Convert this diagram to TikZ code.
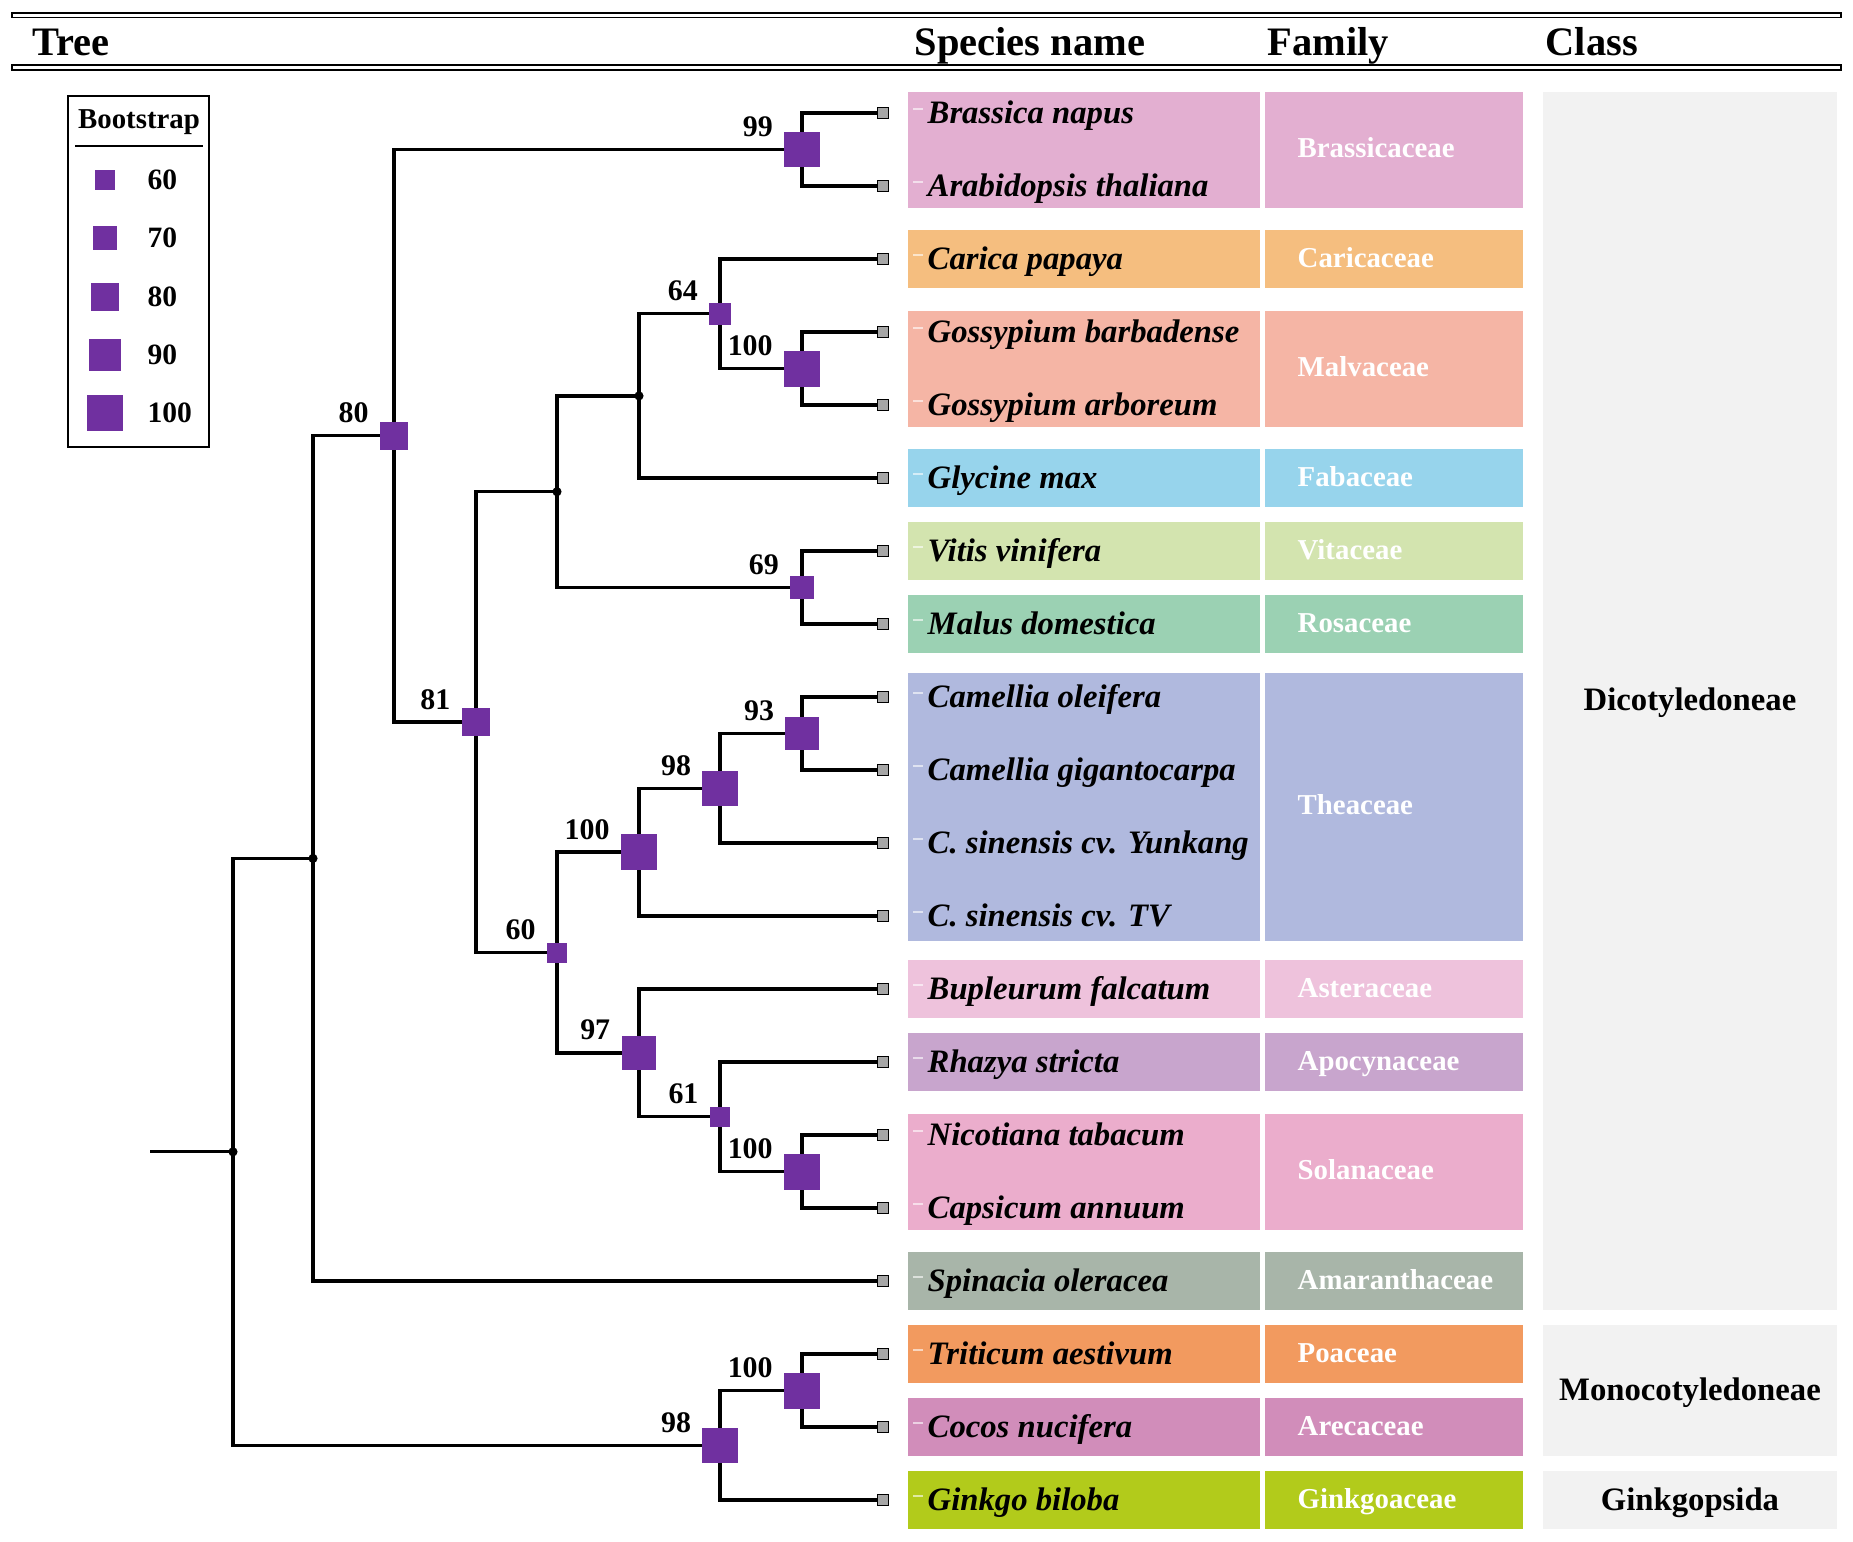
\documentclass[tikz,border=0pt]{standalone}
\usepackage{fontspec}
\setmainfont{Liberation Serif}
\usetikzlibrary{positioning,calc}
\definecolor{bootc}{HTML}{7030A0}
\definecolor{cBras}{HTML}{E3AFD1}
\definecolor{cCari}{HTML}{F5BE7F}
\definecolor{cMalv}{HTML}{F5B5A5}
\definecolor{cFab}{HTML}{97D4EC}
\definecolor{cVit}{HTML}{D3E4AF}
\definecolor{cRos}{HTML}{9BD1B3}
\definecolor{cThea}{HTML}{B0B9DE}
\definecolor{cAst}{HTML}{EEC2DC}
\definecolor{cApo}{HTML}{C8A5CD}
\definecolor{cSol}{HTML}{EBADCC}
\definecolor{cAma}{HTML}{A8B5A9}
\definecolor{cPoa}{HTML}{F29A5F}
\definecolor{cAre}{HTML}{D18DBA}
\definecolor{cGin}{HTML}{B2CB1B}
\definecolor{cClass}{HTML}{F2F2F2}
\tikzset{branch/.style={line width=0.95pt,draw}}
\tikzset{boot sq/.style={rectangle,fill=bootc,inner sep=0pt,
    minimum size={(20+0.4*(#1-60))*0.2845pt}}, }
\tikzset{boot num/.style={inner sep=0pt,anchor=south east,
    font=\fontsize{8.5}{10}\selectfont\bfseries}, }
\tikzset{tip/.style={rectangle,draw,line width=0.35pt,fill=black!35,inner sep=0pt,minimum size=3pt}, }
\tikzset{knot/.style={circle,fill=black,inner sep=0pt,minimum size=2.6pt}, }
\tikzset{spec box/.style={rectangle,inner sep=0pt,minimum width=3.52cm,minimum height={#1*0.01cm}}, }
\tikzset{fam box/.style={rectangle,inner sep=0pt,minimum width=2.58cm,minimum height={#1*0.01cm}}, }
\tikzset{class box/.style={rectangle,fill=cClass,inner sep=0pt,minimum width=2.94cm,minimum height={#1*0.01cm}}, }
\tikzset{spec text/.style={inner sep=0pt,anchor=base west,font=\fontsize{9.3}{11}\selectfont\bfseries\itshape}, }
\tikzset{fam text/.style={inner sep=0pt,anchor=base west,text=white,font=\fontsize{8.2}{10}\selectfont\bfseries}, }
\tikzset{class text/.style={inner sep=0pt,anchor=base,font=\fontsize{9.3}{11}\selectfont\bfseries}, }
\tikzset{head/.style={inner sep=0pt,anchor=base west,font=\fontsize{11.5}{13}\selectfont\bfseries}, }
\tikzset{leg num/.style={inner sep=0pt,anchor=west,font=\fontsize{8.4}{10}\selectfont\bfseries}, }
\tikzset{rule/.style={draw,line width=0.45pt,fill=white}}
\begin{document}
\begin{tikzpicture}[x=0.01cm,y=-0.01cm]
  \useasboundingbox (0,0) rectangle (1853,1541);
  % header
  \draw[rule] (12,13) rectangle (1841,17.5);
  \draw[line width=0.75pt] (12,13) -- (1841,13);
  \draw[rule] (12,65) rectangle (1841,70);
  \draw[line width=0.75pt] (12,70) -- (1841,70);
  \node[head] (htree) at (32,55) {Tree};
  \node[head] (hspec) at (914,55) {Species name};
  \node[head] (hfam) at (1267,55) {Family};
  \node[head] (hclass) at (1545,55) {Class};
  %
  % legend
  \node[draw,line width=0.6pt,inner sep=0pt,minimum width=1.41cm,minimum height=3.51cm] (legend) at (138.5,271.5) {};
  \node[inner sep=0pt,font=\fontsize{8.2}{10}\selectfont\bfseries] (legtitle) at (139,122) {Bootstrap};
  \coordinate (ula) at (75,146);
  \coordinate (ulb) at (203,146);
  \draw[line width=0.4pt] (ula) -- (ulb);
  \foreach \v [count=\k from 0] in {60,70,80,90,100}{
    \node[boot sq=\v] (leg\v) at (105,{180+58.3*\k}) {};
    \node[leg num] (legn\v) at (147,{180+58.3*\k}) {\v};
  }
  %
  % class column
  \node[class box=1218.5] (cdico) at (1690,700.75) {};
  \node[class text] (tdico) at (1690,710) {Dicotyledoneae};
  \node[class box=131] (cmono) at (1690,1390.5) {};
  \node[class text] (tmono) at (1690,1400) {Monocotyledoneae};
  \node[class box=58] (cgink) at (1690,1500) {};
  \node[class text] (tgink) at (1690,1510) {Ginkgopsida};
  %
  % species and family boxes
  \foreach \nm/\cy/\h/\col/\fam in {bras/149.5/116/cBras/Brassicaceae,
      cari/259/58/cCari/Caricaceae, malv/368.5/116/cMalv/Malvaceae,
      fab/478/58/cFab/Fabaceae, vit/551/58/cVit/Vitaceae,
      ros/624/58/cRos/Rosaceae, thea/806.5/268/cThea/Theaceae,
      ast/989/58/cAst/Asteraceae, apo/1062/58/cApo/Apocynaceae,
      sol/1171.5/116/cSol/Solanaceae, ama/1281/58/cAma/Amaranthaceae,
      poa/1354/58/cPoa/Poaceae, are/1427/58/cAre/Arecaceae,
      gin/1500/58/cGin/Ginkgoaceae}{
    \node[spec box=\h,fill=\col] (sb\nm) at (1084,\cy) {};
    \node[fam box=\h,fill=\col] (fb\nm) at (1394,\cy) {};
    \node[fam text] (ft\nm) at (1297,\cy+8) {\fam};
  }
  %
  % leaves
  \foreach \i/\sp in {1/Brassica napus, 2/Arabidopsis thaliana, 3/Carica papaya,
      4/Gossypium barbadense, 5/Gossypium arboreum, 6/Glycine max,
      7/Vitis vinifera, 8/Malus domestica, 9/Camellia oleifera,
      10/Camellia gigantocarpa, 11/C. sinensis cv. Yunkang, 12/C. sinensis cv. TV,
      13/Bupleurum falcatum, 14/Rhazya stricta, 15/Nicotiana tabacum,
      16/Capsicum annuum, 17/Spinacia oleracea, 18/Triticum aestivum,
      19/Cocos nucifera, 20/Ginkgo biloba}{
    \coordinate (l\i) at (883,{113+73*(\i-1)});
    \draw[white,opacity=0.6,line width=0.5pt] ([shift={(30,-4)}]l\i) -- ([shift={(40,-4)}]l\i);
    \node[spec text] (sp\i) at ([shift={(44,10)}]l\i) {\sp};
  }
  %
  % tree
  \coordinate (stem) at (150,1151.8);
  \coordinate (root) at (233,1151.8);
  \coordinate (dico) at (313,858.4);
  \coordinate (core) at (394,435.8);
  \coordinate (bras) at (802,149.5);
  \coordinate (eud) at (476,722.1);
  \coordinate (ros) at (557,491.7);
  \coordinate (fab) at (639,395.9);
  \coordinate (cari) at (720,313.75);
  \coordinate (goss) at (802,368.5);
  \coordinate (vit) at (802,587.5);
  \coordinate (asterid) at (557,952.5);
  \coordinate (thea) at (639,852.1);
  \coordinate (yun) at (720,788.25);
  \coordinate (cam) at (802,733.5);
  \coordinate (ast) at (639,1052.9);
  \coordinate (rhaz) at (720,1116.75);
  \coordinate (sol) at (802,1171.5);
  \coordinate (gym) at (720,1445.25);
  \coordinate (mono) at (802,1390.5);
  \draw[branch] (stem) -- (root);
  \foreach \x/\y in{root/dico,root/gym,dico/core,dico/l17,core/bras,core/eud,bras/l1,bras/l2,
      eud/ros,eud/asterid,ros/fab,ros/vit,fab/cari,fab/l6,cari/l3,cari/goss,goss/l4,goss/l5,
      vit/l7,vit/l8,asterid/thea,asterid/ast,thea/yun,thea/l12,yun/cam,yun/l11,cam/l9,cam/l10,
      ast/l13,ast/rhaz,rhaz/l14,rhaz/sol,sol/l15,sol/l16,gym/mono,gym/l20,mono/l18,mono/l19}
    \draw[branch] (\x) |- (\y);
  %
  \foreach \i in {1,...,20}
    \node[tip] (tip\i) at (l\i) {};
  \foreach \x in {fab,ros,dico,root}
    \node[knot] (k\x) at (\x) {};
  \foreach \x/\v in {bras/99,goss/100,cari/64,vit/69,cam/93,yun/98,thea/100,sol/100,
      rhaz/61,ast/97,asterid/60,eud/81,core/80,mono/100,gym/98}{
    \node[boot sq=\v] (q\x) at (\x) {};
    \node[boot num] (v\x) at ([shift={(-10,-12)}]q\x.west) {\v};
  }
\end{tikzpicture}
\end{document}
